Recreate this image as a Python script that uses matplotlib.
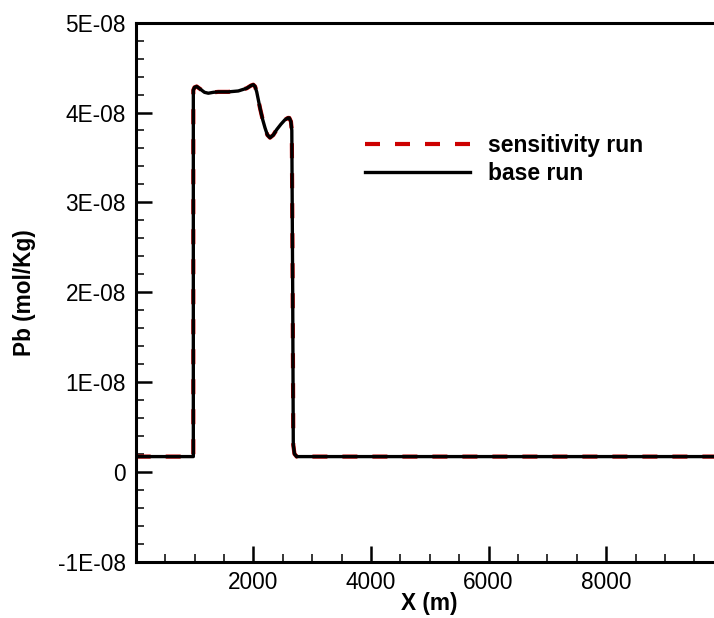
import matplotlib
matplotlib.use("Agg")
import matplotlib.pyplot as plt
from matplotlib.ticker import MultipleLocator

plt.rcParams['font.family'] = ['Liberation Sans', 'DejaVu Sans']

# base run (X in m, Pb in 1E-08 mol/Kg)
base_x = [0, 980, 980, 1000, 1037, 1100, 1170, 1235, 1320, 1405, 1575, 1745, 1888,
          1960, 2000, 2030, 2058, 2114, 2160, 2199, 2240, 2284, 2340, 2398, 2470,
          2539, 2590, 2612, 2640, 2655, 2670, 2680, 2700, 2738, 10000]
base_y = [0.17, 0.17, 4.25, 4.28, 4.29, 4.26, 4.225, 4.215, 4.225, 4.23, 4.23, 4.24, 4.27,
          4.30, 4.31, 4.29, 4.23, 4.05, 3.92, 3.83, 3.75, 3.72, 3.75, 3.81, 3.87,
          3.92, 3.94, 3.94, 3.90, 3.80, 2.0, 0.3, 0.2, 0.17, 0.17]
# sensitivity run (overlaps the base run)
sens_x = [0, 980, 980, 1000, 1037, 1100, 1170, 1235, 1320, 1405, 1575, 1745, 1888,
          1960, 2000, 2030, 2058, 2114, 2160, 2199, 2240, 2284, 2340, 2398, 2470,
          2539, 2590, 2612, 2640, 2655, 2670, 2680, 2700, 2738, 10000]
sens_y = [0.17, 0.17, 4.25, 4.28, 4.29, 4.26, 4.225, 4.215, 4.225, 4.23, 4.23, 4.24, 4.27,
          4.30, 4.31, 4.29, 4.23, 4.05, 3.92, 3.83, 3.75, 3.72, 3.75, 3.81, 3.87,
          3.92, 3.94, 3.94, 3.90, 3.80, 2.0, 0.3, 0.2, 0.17, 0.17]

scale = 1e-8
x_ticks = [2000, 4000, 6000, 8000]
y_ticks = [-1e-8, 0, 1e-8, 2e-8, 3e-8, 4e-8, 5e-8]
y_tick_labels = ['-1E-08', '0', '1E-08', '2E-08', '3E-08', '4E-08', '5E-08']

W, H = 714, 618
fig = plt.figure(figsize=(W / 100, H / 100), dpi=100)
left, right, top, bottom = 135.7, 723.7, 22.7, 561.7
ax = fig.add_axes([left / W, 1 - bottom / H, (right - left) / W, (bottom - top) / H])

red, = ax.plot(sens_x, [v * scale for v in sens_y], color='#cc0000', lw=3.0,
               dashes=(3.6, 3.6), zorder=2, label='sensitivity run')
blk, = ax.plot(base_x, [v * scale for v in base_y], color='black', lw=2.4,
               zorder=3, label='base run')

ax.set_xlim(0, 10000)
ax.set_ylim(-1e-8, 5e-8)
ax.set_xticks(x_ticks)
ax.set_xticklabels([str(t) for t in x_ticks])
ax.set_yticks(y_ticks)
ax.set_yticklabels(y_tick_labels)
ax.xaxis.set_minor_locator(MultipleLocator(500))
ax.yaxis.set_minor_locator(MultipleLocator(2e-9))

ax.tick_params(which='major', direction='in', length=11.5, width=1.8, labelsize=16.3, pad=7,
               top=False, right=False)
ax.tick_params(which='minor', direction='in', length=6, width=1.1, top=False, right=False)
for s in ['left', 'bottom', 'top']:
    ax.spines[s].set_linewidth(2.2)
ax.spines['right'].set_visible(False)

ax.set_xlabel('X (m)', fontsize=16.3, fontweight='bold')
ax.xaxis.set_label_coords(0.5, -0.057)
ax.set_ylabel('Pb (mol/Kg)', fontsize=16.3, fontweight='bold')
ax.yaxis.set_label_coords((36 - left) / (right - left), 0.5)

leg = ax.legend(handles=[red, blk], loc='upper left',
                bbox_to_anchor=(365 / W, 1 - 134 / H), bbox_transform=fig.transFigure,
                frameon=False, prop={'weight': 'bold', 'size': 16.5},
                handlelength=4.6, handletextpad=0.75, labelspacing=0.2,
                borderpad=0, borderaxespad=0)

fig.savefig('out.png', dpi=100)
